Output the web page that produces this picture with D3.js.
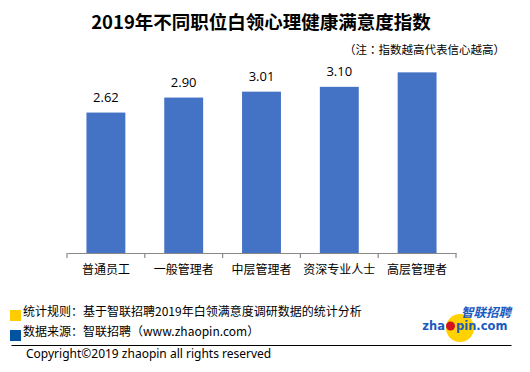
<!DOCTYPE html>
<html>
<head>
<meta charset="utf-8">
<script src="https://cdn.jsdelivr.net/npm/d3@7"></script>
<style>
    body { margin: 0; background: #fff; }
    svg { display: block; font-family: "Noto Sans CJK SC", "Noto Sans", sans-serif; }
</style>
</head>
<body>
<svg id="plot" width="530" height="372"></svg>
<script>
// chart data
var categories = ["普通员工", "一般管理者", "中层管理者", "资深专业人士", "高层管理者"];
var values = [2.62, 2.90, 3.01, 3.10, 3.37];
var valueLabels = ["2.62", "2.90", "3.01", "3.10", ""]; // last bar has no label in the original
var title = "2019年不同职位白领心理健康满意度指数";
var note = "（注：指数越高代表信心越高）";
var footNotes = ["统计规则：基于智联招聘2019年白领满意度调研数据的统计分析", "数据来源：智联招聘（www.zhaopin.com）"];
var footColors = ["#ffcc00", "#00539f"];
var copyright = "Copyright©2019 zhaopin all rights reserved";

var svg = d3.select("#plot"),
    margin = {top: 65, right: 74, bottom: 119, left: 67},
    width = +svg.attr("width") - margin.left - margin.right,
    height = +svg.attr("height") - margin.top - margin.bottom;

var x = d3.scaleBand().domain(categories).range([0, width]).paddingInner(0.5).paddingOuter(0.25),
    y = d3.scaleLinear().domain([0, 3.5]).range([height, height - 3.5 * 53.6]);

var g = svg.append("g")
    .attr("transform", "translate(" + margin.left + "," + margin.top + ")");

// title + note
svg.append("text")
    .attr("x", 261).attr("y", 28.5)
    .attr("text-anchor", "middle")
    .style("font-size", "18.5px").style("font-weight", "bold")
    .text(title);

svg.append("text")
    .attr("x", 505).attr("y", 54)
    .attr("text-anchor", "end")
    .style("font-family", "'Noto Sans CJK TC', sans-serif")
    .style("font-size", "11.5px")
    .text(note);

// bars
g.selectAll(".bar")
    .data(values)
    .enter().append("rect")
    .attr("class", "bar")
    .attr("x", function(d, i) { return x(categories[i]); })
    .attr("y", function(d) { return y(d); })
    .attr("width", x.bandwidth())
    .attr("height", function(d) { return y(0) - y(d); })
    .attr("fill", "#4472c4");

g.selectAll(".val")
    .data(values)
    .enter().append("text")
    .attr("class", "val")
    .attr("x", function(d, i) { return x(categories[i]) + x.bandwidth() / 2; })
    .attr("y", function(d) { return y(d) - 10.5; })
    .attr("text-anchor", "middle")
    .style("font-family", "'Open Sans', sans-serif")
    .style("font-size", "13px")
    .style("fill", "#000")
    .text(function(d, i) { return valueLabels[i]; });

// x axis - labels only, ticks drawn at band edges below
var xAxis = g.append("g")
    .attr("transform", "translate(0," + height + ")")
    .call(d3.axisBottom(x).tickSize(0).tickPadding(12.5));
xAxis.select(".domain").attr("stroke", "#898989").attr("stroke-width", 1.2);
xAxis.selectAll("text")
    .style("font-family", "'Noto Sans CJK SC', sans-serif")
    .style("font-size", "12px")
    .style("fill", "#000");

var edges = categories.map(function(c) { return x(c) - x.step() * x.paddingInner() / 2; });
edges.push(width);
g.selectAll(".edge")
    .data(edges)
    .enter().append("line")
    .attr("class", "edge")
    .attr("x1", function(d) { return d; }).attr("x2", function(d) { return d; })
    .attr("y1", height).attr("y2", height + 5)
    .attr("stroke", "#898989").attr("stroke-width", 1.2);

// footer notes
var foot = svg.append("g").selectAll("g")
    .data(footNotes)
    .enter().append("g")
    .attr("transform", function(d, i) { return "translate(0," + (316 + i * 20) + ")"; });

foot.append("rect")
    .attr("x", 10).attr("y", -6)
    .attr("width", 11).attr("height", 11)
    .attr("fill", function(d, i) { return footColors[i]; });

foot.append("text")
    .attr("x", 23).attr("y", 0)
    .style("font-size", "12px")
    .text(function(d) { return d; });

svg.append("line")
    .attr("x1", 11.5).attr("x2", 511.5)
    .attr("y1", 345.5).attr("y2", 345.5)
    .attr("stroke", "#000").attr("stroke-width", 1);

svg.append("text")
    .attr("x", 26).attr("y", 357.5)
    .style("font-family", "'Noto Sans', sans-serif")
    .style("font-size", "12px")
    .text(copyright);

// logo
var logo = svg.append("g");
logo.append("circle").attr("cx", 460).attr("cy", 328).attr("r", 14).attr("fill", "#ffd200");
logo.append("text")
    .attr("x", 511).attr("y", 316.5)
    .attr("text-anchor", "end")
    .style("font-size", "12.5px").style("font-weight", "bold").style("font-style", "italic")
    .style("fill", "#1a5bbf")
    .text("智联招聘");
logo.append("text")
    .attr("x", 445).attr("y", 330)
    .attr("text-anchor", "end")
    .style("font-family", "'DejaVu Sans', sans-serif")
    .style("font-size", "11.5px").style("font-weight", "bold")
    .style("fill", "#1a5bbf")
    .text("zha");
logo.append("circle").attr("cx", 450.5).attr("cy", 326).attr("r", 4.5).attr("fill", "#d4111e");
logo.append("text")
    .attr("x", 456).attr("y", 330)
    .style("font-family", "'DejaVu Sans', sans-serif")
    .style("font-size", "11.5px").style("font-weight", "bold")
    .style("fill", "#1a5bbf")
    .text("pin.com");
</script>
</body>
</html>
